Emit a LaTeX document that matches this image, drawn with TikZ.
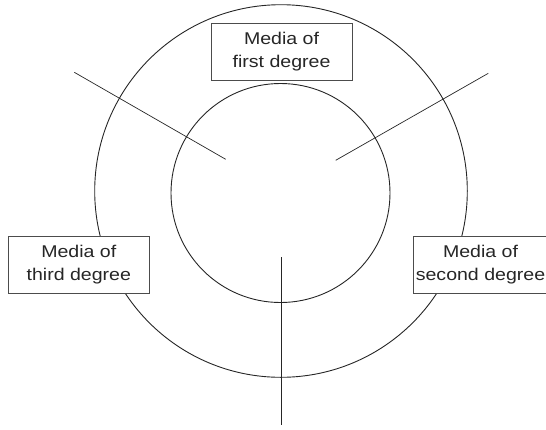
\documentclass[tikz,border=0pt]{standalone}
\usepackage{fontspec}
\setmainfont{Liberation Sans}
\newcommand{\wtxt}[1]{\scalebox{1.15}[1]{#1}}
\begin{document}
\begin{tikzpicture}[x=1pt,y=-1pt,
  ring/.style={draw=black!85, line width=0.9pt, circle, inner sep=0pt},
  ray/.style={draw=black!85, line width=0.7pt},
  degbox/.style={draw=black!70, line width=0.8pt, fill=white, minimum width=141pt, minimum height=57pt, inner sep=0pt, align=center, font=\fontsize{17}{23}\selectfont, text=black!85}]
\useasboundingbox (0,0) rectangle (546,429);
\clip (0,0) rectangle (546,429);
\coordinate (c) at (281,191);
\node[ring, minimum size=372.6pt] (outer) at (c) {};
\node[ring, minimum size=219pt] (inner) at (280.5,193) {};
\coordinate (l1) at (74.3,72.3);
\coordinate (l2) at (225.7,159.3);
\coordinate (r1) at (488.3,73.3);
\coordinate (r2) at (335.7,160.3);
\coordinate (b1) at (281,257);
\coordinate (b2) at (281,425);
\draw[ray] (l1) -- (l2);
\draw[ray] (r1) -- (r2);
\draw[ray] (b1) -- (b2);
\node[degbox] (first) at (281.5,51.5) {\wtxt{Media of}\\\wtxt{first degree}};
\node[degbox] (third) at (78.8,264.5) {\wtxt{Media of}\\\wtxt{third degree}};
\node[degbox] (second) at (483.5,264.5) {\wtxt{Media of}\hspace*{6pt}\\\wtxt{second degree}\hspace*{6pt}};
\end{tikzpicture}
\end{document}
